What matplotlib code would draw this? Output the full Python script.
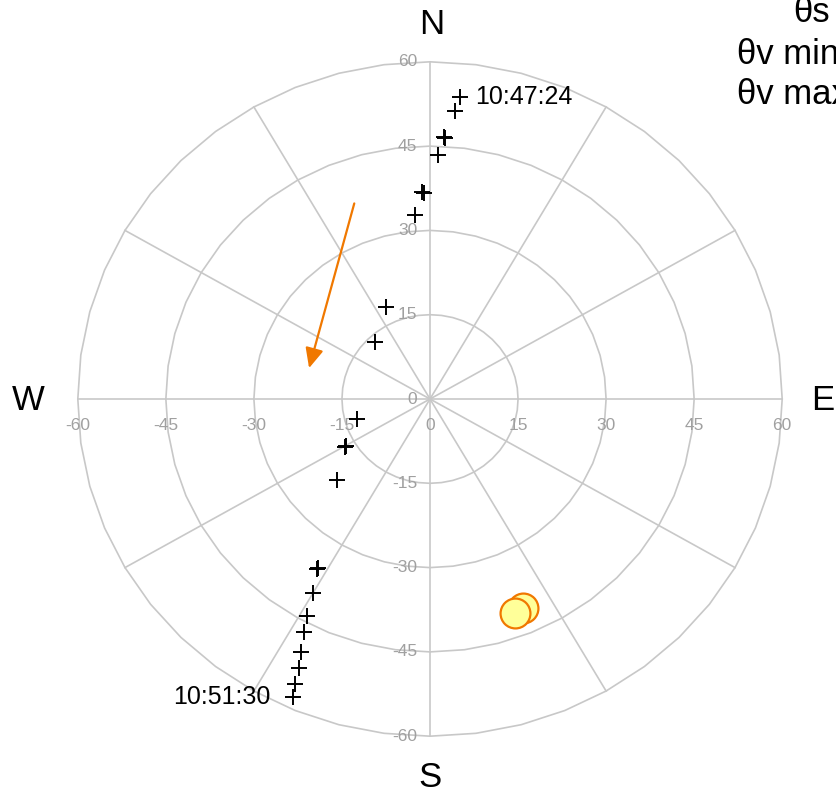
import numpy as np
import matplotlib
matplotlib.use("Agg")
import matplotlib.pyplot as plt

plt.rcParams['font.family'] = ['Liberation Sans', 'DejaVu Sans']

# Viewing geometry projected on the sky plane (degrees, east = +x, north = +y)
view_x = [5.1, 4.3, 2.6, 2.4, 1.4, -1.1, -1.3, -2.6, -7.5, -9.4,
          -12.5, -14.5, -14.3, -15.8, -19.3, -19.1, -20.0, -20.9,
          -21.4, -21.9, -22.4, -23.0, -23.4]
view_y = [53.7, 51.3, 46.4, 46.6, 43.4, 36.7, 36.9, 32.7, 16.4, 10.2,
          -3.6, -8.6, -8.4, -14.5, -30.3, -30.1, -34.6, -38.6,
          -41.5, -45.1, -47.9, -50.7, -53.0]

# Sun positions
sun_x = [15.9, 14.4]
sun_y = [-37.2, -38.0]

# Track direction arrow (start, end)
arrow_start = (-12.9, 34.8)
arrow_end = (-20.6, 5.5)

start_time = "10:47:24"
end_time = "10:51:30"

ring_radii = [15, 30, 45, 60]
spoke_angles = np.arange(0, 360, 30)
tick_values = [-60, -45, -30, -15, 0, 15, 30, 45, 60]

grid_color = "#c8c8c8"
tick_color = "#a0a0a0"
orange = "#f07800"

W, H = 836, 796
fig = plt.figure(figsize=(W / 100, H / 100), dpi=100)
ax = fig.add_axes([0, 0, 1, 1])
cx, cy = 430.0, 399.0
sx, sy = 5.87, 5.62
ax.set_xlim(-cx / sx, (W - cx) / sx)
ax.set_ylim(-(H - cy) / sy, cy / sy)
ax.axis("off")


def px(x, y):
    """Pixel position (from top-left) to data coordinates."""
    return (x - cx) / sx, (cy - y) / sy


# Rings (48-sided polygons) and spokes
th = np.deg2rad(np.arange(0, 360.1, 7.5))
for r in ring_radii:
    ax.plot(r * np.cos(th), r * np.sin(th), color=grid_color, lw=1.2, zorder=1)
for a in spoke_angles:
    t = np.deg2rad(a)
    ax.plot([0, 60 * np.cos(t)], [0, 60 * np.sin(t)], color=grid_color, lw=1.2, zorder=1)

# Axis value labels
for v in tick_values:
    ax.annotate(str(v), (v, 0), xytext=(0, -19), textcoords="offset points",
                ha="center", va="center", fontsize=12.5, color=tick_color, zorder=2)
    ax.annotate(str(v), (0, v), xytext=(-9, 0), textcoords="offset points",
                ha="right", va="center", fontsize=12.5, color=tick_color, zorder=2)

# Cardinal directions
for label, (x, y) in zip("NSWE", [(432, 24), (430, 778), (28, 401), (823, 401)]):
    ax.text(*px(x, y), label, ha="center", va="center", fontsize=25)

# Direction arrow
ax.annotate("", xy=arrow_end, xytext=arrow_start,
            arrowprops=dict(arrowstyle="-|>,head_length=1.2,head_width=0.55",
                            color=orange, lw=1.6, shrinkA=0, shrinkB=0), zorder=3)

# Viewing positions
ax.plot(view_x, view_y, linestyle="none", marker="+", markersize=12,
        markeredgewidth=1.4, color="black", zorder=4)

ax.annotate(start_time, (view_x[0], view_y[0]), xytext=(11, 0), textcoords="offset points",
            ha="left", va="center", fontsize=18, zorder=5)
ax.annotate(end_time, (view_x[-1], view_y[-1]), xytext=(-16, 0), textcoords="offset points",
            ha="right", va="center", fontsize=18, zorder=5)

# Sun
for x, y in zip(sun_x, sun_y):
    ax.plot([x], [y], marker="o", markersize=21.5, markerfacecolor="#ffff99",
            markeredgecolor=orange, markeredgewidth=1.6, linestyle="none", zorder=6)

# Summary block at top right
summary_font = dict(ha="left", va="center", fontsize=25)
fig.text(793 / W, 1 - 12 / H, "θs", **summary_font)
fig.text(737 / W, 1 - 54 / H, "θv min", **summary_font)
fig.text(737 / W, 1 - 94 / H, "θv max", **summary_font)

fig.savefig("out.png", dpi=100)
